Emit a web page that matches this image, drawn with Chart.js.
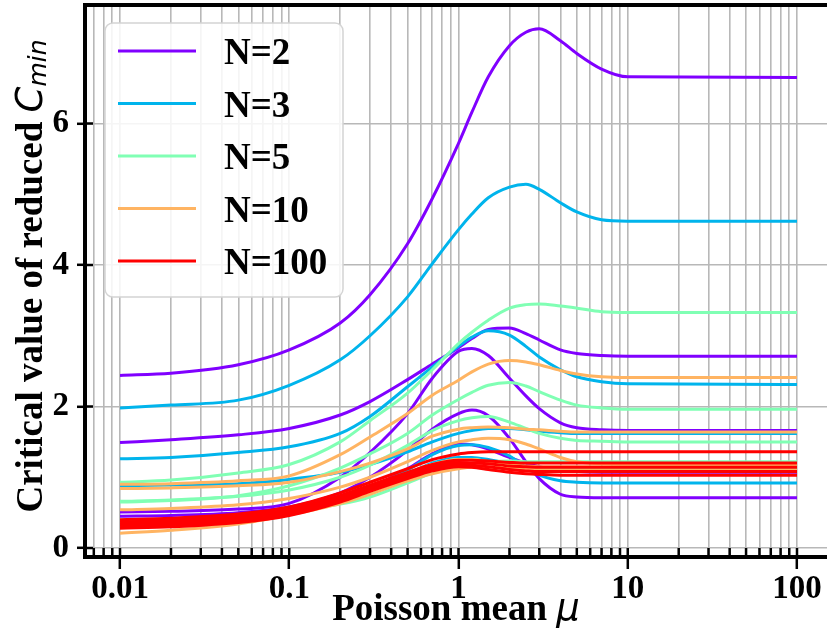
<!DOCTYPE html>
<html>
<head>
<meta charset="utf-8">
<script src="https://cdn.jsdelivr.net/npm/chart.js@4.4.1/dist/chart.umd.min.js"></script>
<style>
  html, body { margin: 0; padding: 0; background: #fff; }
</style>
</head>
<body>
<canvas id="grafico" width="827" height="633"></canvas>
<script>
// Valores de mu (eje x, logarítmico)
const mu = [0.01, 0.02, 0.05, 0.1, 0.2, 0.3, 0.5, 0.7, 1, 1.2, 1.5, 2, 2.5, 3, 4, 5, 7, 10, 100];

// Curvas por cada N (valor crítico de C_min reducido)
const curvasN2 = [
  [2.44, 2.47, 2.59, 2.80, 3.18, 3.58, 4.30, 4.94, 5.72, 6.16, 6.66, 7.10, 7.29, 7.34, 7.17, 6.99, 6.77, 6.66, 6.65],
  [1.49, 1.53, 1.60, 1.69, 1.88, 2.07, 2.38, 2.60, 2.83, 2.96, 3.09, 3.11, 3.03, 2.94, 2.80, 2.75, 2.72, 2.71, 2.71],
  [0.51, 0.52, 0.55, 0.63, 1.00, 1.35, 1.90, 2.40, 2.78, 2.82, 2.72, 2.40, 2.15, 1.97, 1.77, 1.70, 1.67, 1.66, 1.66],
  [0.45, 0.46, 0.50, 0.58, 0.78, 1.00, 1.38, 1.68, 1.90, 1.95, 1.87, 1.55, 1.22, 0.98, 0.76, 0.72, 0.71, 0.71, 0.71],
  [0.34, 0.36, 0.41, 0.50, 0.68, 0.85, 1.12, 1.33, 1.47, 1.46, 1.40, 1.28, 1.20, 1.15, 1.10, 1.08, 1.07, 1.07, 1.07]
];
const curvasN3 = [
  [1.98, 2.02, 2.09, 2.30, 2.66, 3.00, 3.55, 4.02, 4.50, 4.72, 4.95, 5.10, 5.14, 5.07, 4.88, 4.75, 4.64, 4.62, 4.62],
  [1.26, 1.28, 1.35, 1.43, 1.62, 1.86, 2.28, 2.56, 2.85, 2.98, 3.07, 3.01, 2.85, 2.70, 2.52, 2.42, 2.35, 2.32, 2.31],
  [0.88, 0.89, 0.91, 0.97, 1.07, 1.18, 1.36, 1.50, 1.62, 1.66, 1.69, 1.69, 1.67, 1.65, 1.63, 1.62, 1.62, 1.62, 1.62],
  [0.38, 0.40, 0.45, 0.53, 0.70, 0.85, 1.10, 1.32, 1.45, 1.46, 1.42, 1.30, 1.14, 1.03, 0.95, 0.93, 0.92, 0.92, 0.92],
  [0.33, 0.35, 0.40, 0.48, 0.66, 0.82, 1.05, 1.20, 1.28, 1.28, 1.25, 1.19, 1.15, 1.13, 1.12, 1.12, 1.12, 1.12, 1.12]
];
const curvasN5 = [
  [0.93, 0.96, 1.06, 1.18, 1.50, 1.80, 2.19, 2.52, 2.89, 3.05, 3.22, 3.39, 3.44, 3.45, 3.42, 3.39, 3.34, 3.33, 3.33],
  [0.65, 0.67, 0.74, 0.88, 1.13, 1.33, 1.62, 1.88, 2.10, 2.20, 2.30, 2.34, 2.29, 2.21, 2.09, 2.02, 1.98, 1.96, 1.96],
  [0.66, 0.68, 0.73, 0.82, 1.00, 1.17, 1.45, 1.66, 1.80, 1.84, 1.86, 1.78, 1.69, 1.62, 1.55, 1.52, 1.51, 1.50, 1.50],
  [0.40, 0.41, 0.45, 0.52, 0.62, 0.72, 0.92, 1.06, 1.16, 1.20, 1.22, 1.23, 1.22, 1.22, 1.22, 1.22, 1.22, 1.22, 1.22],
  [0.36, 0.38, 0.43, 0.52, 0.70, 0.85, 1.06, 1.18, 1.25, 1.25, 1.22, 1.17, 1.14, 1.13, 1.12, 1.12, 1.12, 1.12, 1.12]
];
const curvasN10 = [
  [0.90, 0.91, 0.95, 1.02, 1.32, 1.57, 1.90, 2.16, 2.37, 2.49, 2.60, 2.65, 2.63, 2.59, 2.51, 2.46, 2.42, 2.41, 2.41],
  [0.84, 0.85, 0.88, 0.93, 1.08, 1.20, 1.40, 1.58, 1.68, 1.70, 1.71, 1.70, 1.68, 1.67, 1.65, 1.64, 1.64, 1.64, 1.64],
  [0.54, 0.56, 0.61, 0.70, 0.86, 1.00, 1.22, 1.38, 1.50, 1.53, 1.55, 1.53, 1.47, 1.40, 1.28, 1.22, 1.19, 1.18, 1.18],
  [0.21, 0.25, 0.34, 0.47, 0.63, 0.76, 0.95, 1.05, 1.12, 1.14, 1.14, 1.13, 1.12, 1.11, 1.10, 1.10, 1.10, 1.10, 1.10],
  [0.37, 0.39, 0.44, 0.53, 0.71, 0.86, 1.06, 1.18, 1.25, 1.25, 1.22, 1.18, 1.16, 1.15, 1.15, 1.15, 1.15, 1.15, 1.15]
];
const curvasN100 = [
  [0.40, 0.42, 0.48, 0.58, 0.78, 0.93, 1.12, 1.25, 1.33, 1.35, 1.36, 1.36, 1.36, 1.36, 1.36, 1.36, 1.36, 1.36, 1.36],
  [0.37, 0.39, 0.45, 0.55, 0.74, 0.89, 1.07, 1.18, 1.24, 1.24, 1.23, 1.21, 1.20, 1.20, 1.20, 1.20, 1.20, 1.20, 1.20],
  [0.34, 0.36, 0.42, 0.52, 0.71, 0.86, 1.04, 1.15, 1.21, 1.20, 1.19, 1.16, 1.15, 1.14, 1.14, 1.14, 1.14, 1.14, 1.14],
  [0.31, 0.33, 0.39, 0.49, 0.68, 0.83, 1.01, 1.12, 1.18, 1.17, 1.15, 1.11, 1.09, 1.08, 1.08, 1.08, 1.08, 1.08, 1.08],
  [0.28, 0.30, 0.36, 0.46, 0.65, 0.80, 0.98, 1.09, 1.15, 1.14, 1.11, 1.07, 1.05, 1.04, 1.03, 1.03, 1.03, 1.03, 1.03]
];

const etiquetasN = ['N=2', 'N=3', 'N=5', 'N=10', 'N=100'];
const coloresN = ['#8000ff', '#00b4ec', '#80ffb4', '#ffb462', '#ff0000'];
const yTicks = [0, 2, 4, 6];
const xTicksLabel = { 0.01: '0.01', 0.1: '0.1', 1: '1', 10: '10', 100: '100' };

const grupos = [curvasN2, curvasN3, curvasN5, curvasN10, curvasN100];

// Ticks menores del eje log (1..9 por década)
const xTicks = [];
for (let e = -3; e <= 2; e++) {
  for (let k = 1; k <= 9; k++) {
    const v = +(k * Math.pow(10, e)).toPrecision(3);
    if (v > 0.0062 && v < 150) xTicks.push(v);
  }
}

const serif = '"Liberation Serif", "Times New Roman", serif';

// Construir los datasets (N=100 se dibuja encima)
const datasets = [];
grupos.forEach((curvas, g) => {
  curvas.forEach((vals) => {
    datasets.push({
      label: etiquetasN[g],
      data: vals.map((v, i) => ({ x: mu[i], y: v })),
      borderColor: coloresN[g],
      borderWidth: 3,
      pointRadius: 0,
      fill: false,
      cubicInterpolationMode: 'monotone',
      order: 100 - datasets.length
    });
  });
});

// Plugin: marco superior, ticks hacia dentro, leyenda y títulos de ejes
const extras = {
  id: 'extras',
  afterDraw(chart) {
    const { ctx, chartArea: a } = chart;
    const sx = chart.scales.x, sy = chart.scales.y;
    ctx.save();

    ctx.strokeStyle = '#000';
    ctx.lineWidth = 4;
    ctx.beginPath();
    ctx.moveTo(a.left - 2, a.top);
    ctx.lineTo(a.right, a.top);
    ctx.stroke();

    ctx.lineWidth = 2.5;
    ctx.beginPath();
    sx.ticks.forEach((t) => {
      const px = sx.getPixelForValue(t.value);
      ctx.moveTo(px, a.bottom);
      ctx.lineTo(px, a.bottom - 9);
    });
    sy.ticks.forEach((t) => {
      const py = sy.getPixelForValue(t.value);
      ctx.moveTo(a.left, py);
      ctx.lineTo(a.left + 8, py);
    });
    ctx.stroke();

    // Leyenda
    const lx = 105, ly = 23, lw = 238, lh = 274;
    ctx.beginPath();
    ctx.roundRect(lx, ly, lw, lh, 8);
    ctx.fillStyle = 'rgba(255,255,255,0.85)';
    ctx.fill();
    ctx.strokeStyle = '#d4d4d4';
    ctx.lineWidth = 1.5;
    ctx.stroke();
    ctx.font = 'bold 37px ' + serif;
    ctx.textBaseline = 'alphabetic';
    ctx.textAlign = 'left';
    etiquetasN.forEach((lab, i) => {
      const yy = 51 + i * 52.5;
      ctx.strokeStyle = coloresN[i];
      ctx.lineWidth = 3;
      ctx.beginPath();
      ctx.moveTo(118, yy);
      ctx.lineTo(196, yy);
      ctx.stroke();
      ctx.fillStyle = '#000';
      ctx.fillText(lab, 224, yy + 13);
    });

    // Título eje x
    const fBold = 'bold 37px ' + serif;
    const fMath = 'italic 37px "DejaVu Sans"';
    ctx.font = fBold;
    const t1 = 'Poisson mean ';
    const w1 = ctx.measureText(t1).width;
    ctx.font = fMath;
    const w2 = ctx.measureText('\u03bc').width;
    const cx = (a.left + a.right) / 2;
    const x0 = cx - (w1 + w2) / 2;
    ctx.fillStyle = '#000';
    ctx.font = fBold;
    ctx.fillText(t1, x0, 620);
    ctx.font = fMath;
    ctx.fillText('\u03bc', x0 + w1, 620);

    // Título eje y (rotado)
    const s1 = 'Critical value of reduced ';
    ctx.font = fBold;
    const v1 = ctx.measureText(s1).width;
    ctx.font = fMath;
    const v2 = ctx.measureText('C').width;
    const fSub = 'italic 25px "DejaVu Sans"';
    ctx.font = fSub;
    const v3 = ctx.measureText('min').width;
    const total = v1 + v2 + v3;
    ctx.translate(42, 276);
    ctx.rotate(-Math.PI / 2);
    const p = -total / 2;
    ctx.font = fBold;
    ctx.fillText(s1, p, 0);
    ctx.font = fMath;
    ctx.fillText('C', p + v1, 0);
    ctx.font = fSub;
    ctx.fillText('min', p + v1 + v2, 4);

    ctx.restore();
  }
};

const ctx = document.getElementById('grafico').getContext('2d');
const grafico = new Chart(ctx, {
  type: 'line',
  data: { datasets: datasets },
  options: {
    responsive: false,
    animation: false,
    events: [],
    layout: { padding: { top: 5, right: 0, bottom: 0, left: 0 } },
    plugins: {
      legend: { display: false },
      tooltip: { enabled: false }
    },
    scales: {
      x: {
        type: 'logarithmic',
        min: 0.00621,
        max: 150.4,
        afterBuildTicks: (s) => {
          s.ticks = xTicks.map((v) => ({ value: v, major: xTicksLabel[v] !== undefined }));
        },
        afterFit: (s) => {
          s.height = 76;
          s.paddingLeft = 0;
          s.paddingRight = 0;
        },
        ticks: {
          autoSkip: false,
          maxRotation: 0,
          padding: 1,
          color: '#000',
          font: { family: serif, size: 33, weight: 'bold' },
          callback: (v) => xTicksLabel[v] || ''
        },
        grid: {
          color: '#b8b8b8',
          lineWidth: 1.6,
          tickLength: 12,
          tickWidth: 2.5,
          tickColor: (c) => (c.tick && xTicksLabel[c.tick.value] ? '#000' : 'rgba(0,0,0,0)')
        },
        border: { color: '#000', width: 4 }
      },
      y: {
        min: -0.127,
        max: 7.675,
        afterBuildTicks: (s) => {
          s.ticks = yTicks.map((v) => ({ value: v }));
        },
        afterFit: (s) => {
          s.width = 85;
          s.paddingTop = 0;
          s.paddingBottom = 0;
        },
        ticks: {
          padding: 8,
          color: '#000',
          font: { family: serif, size: 33, weight: 'bold' }
        },
        grid: {
          color: '#b8b8b8',
          lineWidth: 1.6,
          tickLength: 8,
          tickWidth: 2.5,
          tickColor: '#000'
        },
        border: { color: '#000', width: 4 }
      }
    }
  },
  plugins: [extras]
});
</script>
</body>
</html>
